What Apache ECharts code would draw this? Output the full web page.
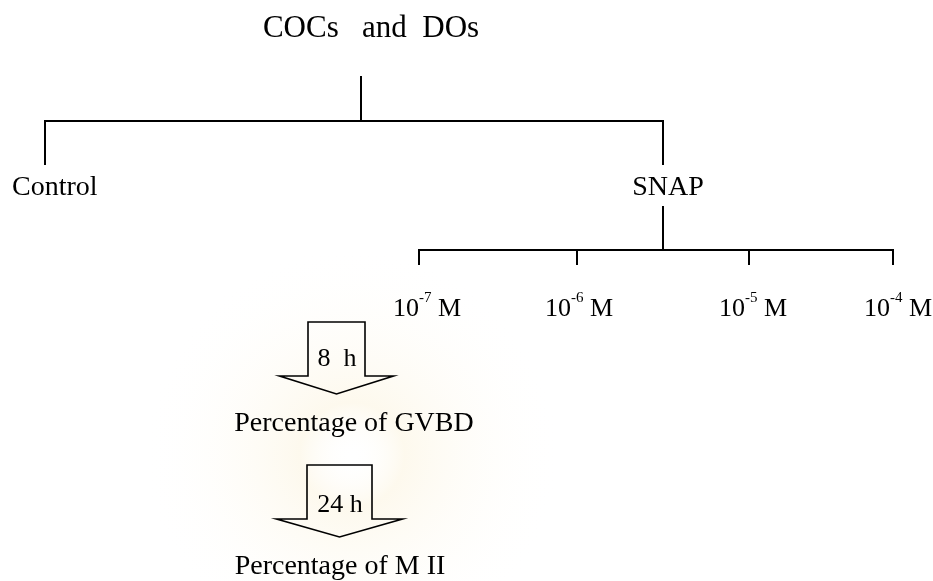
<!DOCTYPE html>
<html>
<head>
<meta charset="utf-8">
<script src="https://cdn.jsdelivr.net/npm/echarts@6/dist/echarts.min.js"></script>
<style>
  html, body { margin: 0; padding: 0; background: #fff; }
  #chart { width: 933px; height: 581px; }
</style>
</head>
<body>
<div id="chart"></div>
<script>
// texts of the flow diagram
var rootLabel = 'COCs   and  DOs';
var groupLabels = ['Control', 'SNAP'];
var doseBase = '10';
var doseExponents = ['-7', '-6', '-5', '-4'];
var doseUnit = 'M';
var incubationTimes = ['8  h', '24 h'];
var outcomeLabels = ['Percentage of GVBD', 'Percentage of M II'];

// layout, in axis units (1 unit = 1 px)
var rootPos = [371, 29];
var groupPos = [[12, 188], [668, 188]];
var dosePos = [[427, 309], [579, 309], [753, 309], [898, 309]];
var timePos = [[337, 359], [340, 505]];
var outcomePos = [[354, 424], [340, 567]];
var connectors = [
  [361, 77, 361, 121],
  [45, 121, 663, 121],
  [45, 121, 45, 164],
  [663, 121, 663, 164],
  [663, 207, 663, 250],
  [419, 250, 893, 250],
  [419, 250, 419, 264],
  [577, 250, 577, 264],
  [749, 250, 749, 264],
  [893, 250, 893, 264]
];
// cx, top, box half width, shoulder y, wing half width, tip y
var arrows = [
  [336.5, 322, 28.5, 376, 57, 394],
  [339.5, 465, 32.5, 519, 63, 537]
];

var serif = "'Liberation Serif', 'Times New Roman', serif";

var textItems = [];
textItems.push({ pos: rootPos, text: rootLabel, size: 31 });
groupLabels.forEach(function (g, i) {
  textItems.push({ pos: groupPos[i], text: g, size: 28, align: i === 0 ? 'left' : 'center' });
});
doseExponents.forEach(function (e, i) {
  textItems.push({
    pos: dosePos[i],
    text: '{n|' + doseBase + '}{s|' + e + '}{n| ' + doseUnit + '}',
    size: 26,
    rich: {
      n: { fontSize: 26, fontFamily: serif, lineHeight: 36, fill: '#000' },
      s: { fontSize: 15, fontFamily: serif, verticalAlign: 'top', fill: '#000' }
    }
  });
});
incubationTimes.forEach(function (t, i) {
  textItems.push({ pos: timePos[i], text: t, size: 26 });
});
outcomeLabels.forEach(function (t, i) {
  textItems.push({ pos: outcomePos[i], text: t, size: 28 });
});

var chart = echarts.init(document.getElementById('chart'));

chart.setOption({
  animation: false,
  backgroundColor: '#fff',
  graphic: [{
    type: 'circle',
    silent: true,
    z: -10,
    shape: { cx: 352, cy: 455, r: 210 },
    style: {
      fill: new echarts.graphic.RadialGradient(0.5, 0.5, 0.5, [
        { offset: 0, color: 'rgba(255,255,255,0)' },
        { offset: 0.25, color: 'rgba(250,238,205,0.35)' },
        { offset: 1, color: 'rgba(255,255,255,0)' }
      ])
    }
  }],
  grid: { left: 0, right: 0, top: 0, bottom: 0 },
  xAxis: { type: 'value', min: 0, max: 933, show: false },
  yAxis: { type: 'value', min: 0, max: 581, inverse: true, show: false },
  series: [
    {
      type: 'custom',
      name: 'connectors',
      data: connectors,
      renderItem: function (params, api) {
        var a = api.coord([api.value(0), api.value(1)]);
        var b = api.coord([api.value(2), api.value(3)]);
        return {
          type: 'line',
          shape: { x1: a[0], y1: a[1], x2: b[0], y2: b[1] },
          style: { stroke: '#000', lineWidth: 2, lineCap: 'square' }
        };
      }
    },
    {
      type: 'custom',
      name: 'arrows',
      data: arrows,
      renderItem: function (params, api) {
        var cx = api.value(0), top = api.value(1), hb = api.value(2);
        var sy = api.value(3), hw = api.value(4), ty = api.value(5);
        var pts = [
          [cx - hb, top], [cx + hb, top], [cx + hb, sy], [cx + hw, sy],
          [cx, ty], [cx - hw, sy], [cx - hb, sy]
        ].map(function (p) { return api.coord(p); });
        return {
          type: 'polygon',
          shape: { points: pts },
          style: { fill: 'rgba(255,255,255,0)', stroke: '#000', lineWidth: 1.6, lineJoin: 'miter' }
        };
      }
    },
    {
      type: 'custom',
      name: 'texts',
      data: textItems.map(function (t, i) { return [t.pos[0], t.pos[1], i]; }),
      renderItem: function (params, api) {
        var t = textItems[api.value(2)];
        var p = api.coord([api.value(0), api.value(1)]);
        return {
          type: 'text',
          x: p[0],
          y: p[1],
          style: {
            text: t.text,
            fill: '#000',
            fontSize: t.size,
            fontFamily: serif,
            align: t.align || 'center',
            verticalAlign: 'middle',
            rich: t.rich
          }
        };
      }
    }
  ]
});
</script>
</body>
</html>
